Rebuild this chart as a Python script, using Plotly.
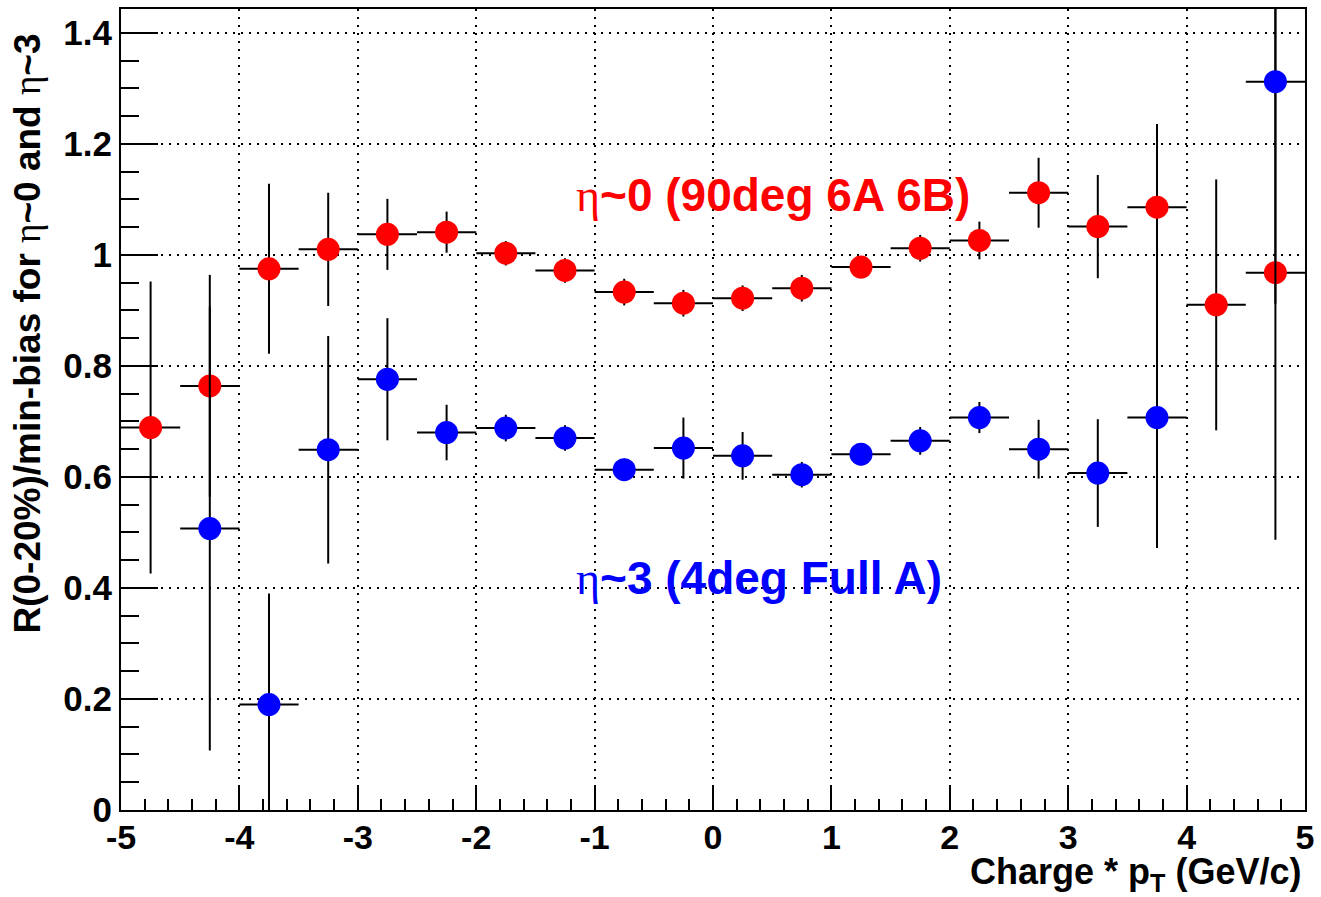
import plotly.graph_objects as go

# ---- data ----
bin_centers = [-4.75, -4.25, -3.75, -3.25, -2.75, -2.25, -1.75, -1.25, -0.75, -0.25,
               0.25, 0.75, 1.25, 1.75, 2.25, 2.75, 3.25, 3.75, 4.25, 4.75]
bin_half_width = 0.25

red_vals = [0.689, 0.764, 0.975, 1.010, 1.037, 1.041, 1.003, 0.972, 0.933, 0.913,
            0.922, 0.940, 0.978, 1.012, 1.026, 1.112, 1.051, 1.086, 0.910, 0.968]
red_errs = [0.263, 0.200, 0.153, 0.102, 0.064, 0.037, 0.022, 0.022, 0.024, 0.024,
            0.023, 0.024, 0.020, 0.024, 0.034, 0.063, 0.093, 0.150, 0.226, 0.481]

blue_vals = [None, 0.507, 0.190, 0.649, 0.776, 0.680, 0.688, 0.670, 0.613, 0.652,
             0.638, 0.604, 0.641, 0.665, 0.707, 0.650, 0.607, 0.707, None, 1.312]
blue_errs = [None, 0.400, 0.200, 0.205, 0.110, 0.050, 0.024, 0.023, 0.020, 0.055,
             0.043, 0.023, 0.020, 0.025, 0.028, 0.053, 0.097, 0.235, None, 0.400]

x_tick_vals = [-5, -4, -3, -2, -1, 0, 1, 2, 3, 4, 5]
x_tick_text = ["-5", "-4", "-3", "-2", "-1", "0", "1", "2", "3", "4", "5"]
y_tick_vals = [0, 0.2, 0.4, 0.6, 0.8, 1.0, 1.2, 1.4]
y_tick_text = ["0", "0.2", "0.4", "0.6", "0.8", "1", "1.2", "1.4"]

ETA = "<span style='font-family:Liberation Serif;font-weight:normal'>η</span>"
red_label = ETA + "~0 (90deg 6A 6B)"
blue_label = ETA + "~3 (4deg Full A)"
y_title = "R(0-20%)/min-bias for " + ETA + "~0 and " + ETA + "~3"
x_title = "Charge * p<sub>T</sub> (GeV/c)"

FONT = "Liberation Sans, Arial, Helvetica, sans-serif"

bx = [x for x, v in zip(bin_centers, blue_vals) if v is not None]
by = [v for v in blue_vals if v is not None]
be = [e for e in blue_errs if e is not None]

fig = go.Figure()

fig.add_trace(go.Scatter(
    x=bin_centers, y=red_vals, mode="markers",
    marker=dict(color="#ff0000", size=23, symbol="circle", line=dict(width=0)),
    error_y=dict(type="data", array=red_errs, symmetric=True, color="black", thickness=2, width=0),
    error_x=dict(type="constant", value=bin_half_width, color="black", thickness=2, width=0),
    showlegend=False, cliponaxis=True,
))
fig.add_trace(go.Scatter(
    x=bx, y=by, mode="markers",
    marker=dict(color="#0000ff", size=23, symbol="circle", line=dict(width=0)),
    error_y=dict(type="data", array=be, symmetric=True, color="black", thickness=2, width=0),
    error_x=dict(type="constant", value=bin_half_width, color="black", thickness=2, width=0),
    showlegend=False, cliponaxis=True,
))

fig.update_layout(
    width=1321, height=897,
    margin=dict(l=121, r=14, t=7, b=87),
    paper_bgcolor="white", plot_bgcolor="white",
    font=dict(family=FONT, color="black", size=34, weight="bold"),
    xaxis=dict(
        range=[-5, 5], tickmode="array", tickvals=x_tick_vals, ticktext=x_tick_text,
        ticks="inside", ticklen=23, tickwidth=2, tickcolor="black",
        ticklabelstandoff=-4,
        showline=True, linewidth=2, linecolor="black", mirror=True,
        showgrid=True, gridcolor="black", gridwidth=1.5, griddash="2px,6px",
        zeroline=False,
        tickfont=dict(family=FONT, size=34, color="black", weight="bold"),
        minor=dict(tickmode="linear", tick0=-5, dtick=0.2, ticks="inside", ticklen=11,
                   tickwidth=2, tickcolor="black", showgrid=False),
    ),
    yaxis=dict(
        range=[0, 1.443], tickmode="array", tickvals=y_tick_vals, ticktext=y_tick_text,
        ticks="inside", ticklen=37, tickwidth=2, tickcolor="black",
        showline=True, linewidth=2, linecolor="black", mirror=True,
        showgrid=True, gridcolor="black", gridwidth=1.5, griddash="2px,6px",
        zeroline=False,
        tickfont=dict(family=FONT, size=35, color="black", weight="bold"),
        minor=dict(tickmode="linear", tick0=0, dtick=0.05, ticks="inside", ticklen=18,
                   tickwidth=2, tickcolor="black", showgrid=False),
    ),
    annotations=[
        dict(text=red_label, xref="paper", yref="paper", x=0.5505, y=0.768,
             xanchor="center", yanchor="middle", showarrow=False,
             font=dict(family=FONT, size=46, color="#ff0000", weight="bold")),
        dict(text=blue_label, xref="paper", yref="paper", x=0.539, y=0.290,
             xanchor="center", yanchor="middle", showarrow=False,
             font=dict(family=FONT, size=46, color="#0000ff", weight="bold")),
        dict(text=y_title, xref="paper", yref="paper", x=-0.0793, y=0.595,
             xanchor="center", yanchor="middle", showarrow=False, textangle=-90,
             font=dict(family=FONT, size=37, color="black", weight="bold")),
        dict(text=x_title, xref="paper", yref="paper", x=0.9985, y=-0.111,
             xanchor="right", yanchor="bottom", showarrow=False,
             font=dict(family=FONT, size=36, color="black", weight="bold")),
    ],
)

fig.write_html("out.html")
